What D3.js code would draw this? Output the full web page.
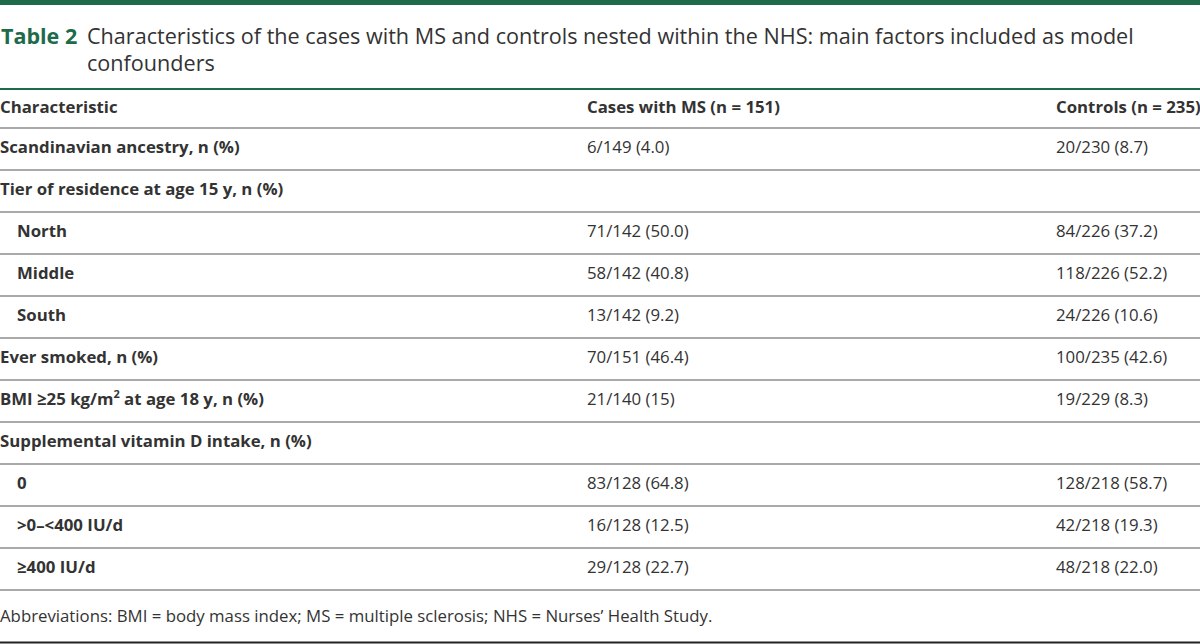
<!DOCTYPE html>
<html>

<head>
  <title>Table 2</title>
  <meta charset="UTF-8" />
  <script src="https://cdn.jsdelivr.net/npm/d3@7"></script>
</head>

<style>
  body {
    margin: 0;
    background: #fff;
    font-family: 'Open Sans', 'Noto Sans', sans-serif;
  }
</style>

<body>
  <svg></svg>
  <script>
    // table content
    const titleLabel = 'Table 2';
    const titleLines = [
      'Characteristics of the cases with MS and controls nested within the NHS: main factors included as model',
      'confounders'
    ];
    const headers = ['Characteristic', 'Cases with MS (n = 151)', 'Controls (n = 235)'];
    const labels = [
      'Scandinavian ancestry, n (%)',
      'Tier of residence at age 15 y, n (%)',
      'North',
      'Middle',
      'South',
      'Ever smoked, n (%)',
      'BMI ≥25 kg/m^2 at age 18 y, n (%)',
      'Supplemental vitamin D intake, n (%)',
      '0',
      '>0–<400 IU/d',
      '≥400 IU/d'
    ];
    const indented = [false, false, true, true, true, false, false, false, true, true, true];
    const cases = ['6/149 (4.0)', '', '71/142 (50.0)', '58/142 (40.8)', '13/142 (9.2)', '70/151 (46.4)',
      '21/140 (15)', '', '83/128 (64.8)', '16/128 (12.5)', '29/128 (22.7)'];
    const controls = ['20/230 (8.7)', '', '84/226 (37.2)', '118/226 (52.2)', '24/226 (10.6)', '100/235 (42.6)',
      '19/229 (8.3)', '', '128/218 (58.7)', '42/218 (19.3)', '48/218 (22.0)'];
    const footnote = 'Abbreviations: BMI = body mass index; MS = multiple sclerosis; NHS = Nurses’ Health Study.';

    let width = 1200,
      height = 644;

    const green = '#1d6b4b';
    const ink = '#333333';
    const fs = '16.8px';

    let svg = d3.select('svg').attr('width', width).attr('height', height);

    // column positions and row positions
    let x = d3.scaleOrdinal().domain([0, 1, 2]).range([0, 587, 1056]);
    let y = d3.scaleLinear().domain([0, labels.length]).range([128, 590]);

    // top bar
    svg.append('rect').attr('x', 0).attr('y', 0).attr('width', width).attr('height', 5).attr('fill', green);

    // title
    svg.append('text')
      .attr('x', 1).attr('y', 44)
      .attr('fill', green)
      .style('font-size', '21.5px').style('font-weight', 700)
      .text(titleLabel);

    svg.append('g').selectAll('text')
      .data(titleLines)
      .enter()
      .append('text')
      .attr('x', 87)
      .attr('y', (d, i) => 44 + i * 27)
      .attr('fill', ink)
      .style('font-size', '21.6px')
      .text(d => d);

    // rule under title
    svg.append('line')
      .attr('x1', 0).attr('x2', width).attr('y1', 89).attr('y2', 89)
      .attr('stroke', green).attr('stroke-width', 2);

    // header row
    svg.append('g').selectAll('text')
      .data(headers)
      .enter()
      .append('text')
      .attr('x', (d, i) => x(i))
      .attr('y', 113)
      .attr('fill', ink)
      .style('font-size', fs).style('font-weight', 700)
      .text(d => d);

    // row separators
    svg.append('g').selectAll('line')
      .data(d3.range(labels.length + 1))
      .enter()
      .append('line')
      .attr('x1', 0).attr('x2', width)
      .attr('y1', d => y(d)).attr('y2', d => y(d))
      .attr('stroke', '#555')
      .attr('stroke-width', 1.2);

    // rows
    let rows = svg.append('g').selectAll('g')
      .data(labels)
      .enter()
      .append('g')
      .attr('transform', (d, i) => 'translate(0,' + (y(i) + 25) + ')');

    rows.append('text')
      .attr('x', (d, i) => x(0) + (indented[i] ? 17 : 0))
      .attr('fill', ink)
      .style('font-size', fs).style('font-weight', 700)
      .each(function (d) {
        let parts = d.split('^');
        let t = d3.select(this);
        t.append('tspan').text(parts[0]);
        if (parts.length > 1) {
          t.append('tspan').attr('dy', -7).style('font-size', '11px').text(parts[1].charAt(0));
          t.append('tspan').attr('dy', 7).text(parts[1].slice(1));
        }
      });

    rows.append('text')
      .attr('x', x(1))
      .attr('fill', ink)
      .style('font-size', fs)
      .text((d, i) => cases[i]);

    rows.append('text')
      .attr('x', x(2))
      .attr('fill', ink)
      .style('font-size', fs)
      .text((d, i) => controls[i]);

    // footnote
    svg.append('text')
      .attr('x', 0).attr('y', 622)
      .attr('fill', ink)
      .style('font-size', fs)
      .text(footnote);

    // bottom rule
    svg.append('line')
      .attr('x1', 0).attr('x2', width).attr('y1', 642.5).attr('y2', 642.5)
      .attr('stroke', '#222').attr('stroke-width', 2);
  </script>
</body>

</html>
